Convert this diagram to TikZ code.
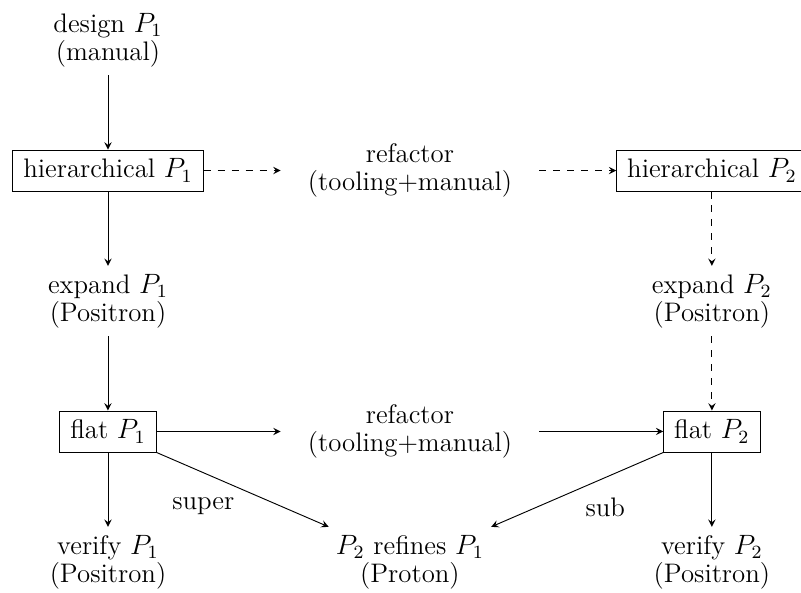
\documentclass[tikz,border=0pt]{standalone}
\usepackage{tikz}
\usetikzlibrary{arrows}

\begin{document}
\begin{tikzpicture}[
                > = stealth, % arrow head style
                auto, node distance = 56pt, % distance between rows
                x = 1pt, y = 1pt
            ]

            \tikzstyle{every node}=[align = center,
            font = \fontsize{11.5}{12}\selectfont]
            \tikzstyle{box}=[draw = black, rectangle, minimum height = 17.6pt,
            inner xsep = 4.5pt]
            \tikzstyle{tool}=[inner xsep = 11.5pt]

            \useasboundingbox (0,0) rectangle (343.8,-254.1);

            % left column: P1
            \node (d1) at (46.35,-17.2) {design $P_1$\\(manual)};
            \node (h1) [box, below of=d1] {hierarchical $P_1$};
            \node (e1) [below of=h1] {expand $P_1$\\(Positron)};
            \node (f1) [box, below of=e1] {flat $P_1$};
            \node (v1) [below of=f1] {verify $P_1$\\(Positron)};

            % middle column
            \node (r1) [tool, right of=h1, node distance=129.6pt]
            {refactor\\(tooling+manual)};
            \node (r2) [tool, right of=f1, node distance=129.6pt]
            {refactor\\(tooling+manual)};
            \node (rf) [right of=v1, node distance=129.6pt]
            {$P_2$ refines $P_1$\\(Proton)};

            % right column: P2
            \node (h2) [box, right of=r1, node distance=129.6pt]
            {hierarchical $P_2$};
            \node (e2) [below of=h2] {expand $P_2$\\(Positron)};
            \node (f2) [box, below of=e2] {flat $P_2$};
            \node (v2) [below of=f2] {verify $P_2$\\(Positron)};

            \path[->] (d1) edge (h1); \path[->] (h1) edge (e1);
            \path[->] (e1) edge (f1); \path[->] (f1) edge (v1);
            \path[->, dashed] (h1) edge (r1); \path[->, dashed] (r1) edge (h2);
            \path[->, dashed] (h2) edge (e2); \path[->, dashed] (e2) edge (f2);
            \path[->] (f1) edge (r2); \path[->] (r2) edge (f2);
            \path[->] (f2) edge (v2);
            \path[->] (f1) edge node[below left] {super} (rf);
            \path[->] (f2) edge node[below right] {sub} (rf);

        \end{tikzpicture}
\end{document}
